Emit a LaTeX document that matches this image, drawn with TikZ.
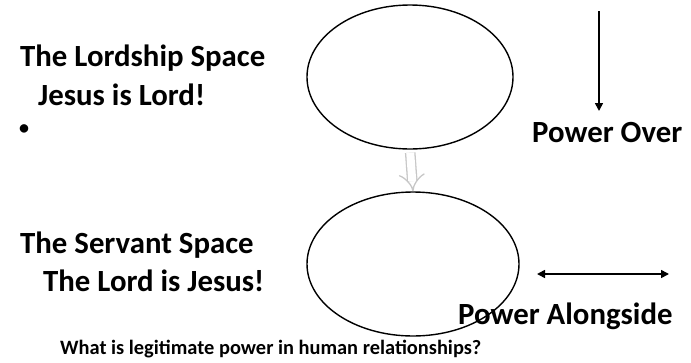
\documentclass[tikz,border=0pt]{standalone}
\usepackage{fontspec}
\setmainfont{Carlito}
\usetikzlibrary{arrows.meta,shapes.geometric,positioning}

\tikzset{
    space/.style={ellipse, draw, line width=1.4pt, minimum width=206pt, minimum height=144pt},
    title/.style={anchor=west, font=\bfseries\fontsize{30.8}{36}\selectfont, inner sep=0pt},
    power/.style={line width=1.6pt, -{Triangle[length=8pt,width=8pt]}}
}

\begin{document}
\begin{tikzpicture}[x=1pt,y=-1pt]
    \useasboundingbox (0,0) rectangle (691,362);
    \node[space] (lord) at (410,77) {};
    \node[space, minimum width=212pt] (servant) at (413,264) {};
    \node[title] (lordship) at (20,58) {The Lordship Space};
    \node[title] (jesuslord) at (38,95) {Jesus is Lord!};
    \node[title, font=\bfseries\fontsize{20}{24}\selectfont] (bullet) at (19,130) {\textbullet};
    \node[title] (servantsp) at (20,245) {The Servant Space};
    \node[title] (lordjesus) at (43,281) {The Lord is Jesus!};
    \node[title] (over) at (532,133) {Power Over};
    \node[title] (alongside) at (458,316) {Power Alongside};
    \node[anchor=west, font=\bfseries\fontsize{20.4}{24}\selectfont, inner sep=0pt] (question) at (60,349) {What is legitimate power in human relationships?};
    \coordinate (overtop) at (599,11);
    \coordinate (overbot) at (599,111);
    \coordinate (alongl) at (537,274);
    \coordinate (alongr) at (669,274);
    \draw[power] (overtop) -- (overbot);
    \draw[power, {Triangle[length=8pt,width=8pt]}-{Triangle[length=8pt,width=8pt]}] (alongl) -- (alongr);
    \draw[black!22, line width=1.3pt, double=white, double distance=8pt, -{Implies}, shorten <=3pt] (lord.south) -- (servant.north);
\end{tikzpicture}
\end{document}
